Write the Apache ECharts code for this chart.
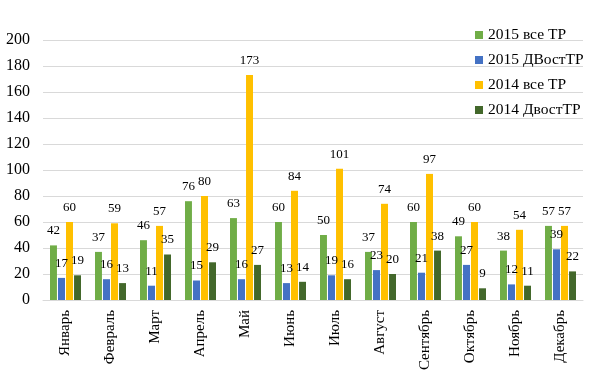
<!DOCTYPE html>
<html><head><meta charset="utf-8">
<script src="https://cdn.jsdelivr.net/npm/echarts@6/dist/echarts.min.js"></script>
<style>html,body{margin:0;padding:0;background:#fff}#c{width:609px;height:386px}</style>
</head><body><div id="c"></div>
<script>
const categories = ['Январь','Февраль','Март','Апрель','Май','Июнь','Июль','Август','Сентябрь','Октябрь','Ноябрь','Декабрь'];
const s2015all = [42,37,46,76,63,60,50,37,60,49,38,57];
const s2015dv = [17,16,11,15,16,13,19,23,21,27,12,39];
const s2014all = [60,59,57,80,173,84,101,74,97,60,54,57];
const s2014dv = [19,13,35,29,27,14,16,20,38,9,11,22];
const seriesNames = ['2015 все ТР','2015 ДВостТР','2014 все ТР','2014 ДвостТР'];
const colors = ['#70ad47','#4472c4','#ffc000','#43682b'];
const font = '"Liberation Serif","DejaVu Serif",serif';
const chart = echarts.init(document.getElementById('c'));
const data = [s2015all, s2015dv, s2014all, s2014dv];
chart.setOption({
  animation:false,
  color: colors,
  legend:{orient:'vertical', left:470, top:22, itemWidth:8, itemHeight:8, itemGap:9, icon:'rect',
    textStyle:{fontFamily:font, fontSize:15.5, color:'#000'}, data: seriesNames},
  grid:{left:43, right:26, top:40, bottom:86},
  xAxis:{type:'category', data:categories,
    axisLine:{lineStyle:{color:'#d9d9d9'}}, axisTick:{show:false},
    axisLabel:{rotate:90, interval:0, margin:10, fontFamily:font, fontSize:15, color:'#000'}},
  yAxis:{type:'value', min:0, max:200, interval:20,
    axisLine:{show:false}, axisTick:{show:false},
    splitLine:{lineStyle:{color:'#d9d9d9'}},
    axisLabel:{margin:13, fontFamily:font, fontSize:16, color:'#000'}},
  series: data.map((d,i)=>({
    name: seriesNames[i], type:'bar', data:d,
    barGap:'15%', barCategoryGap:'31%',
    label:{show:true, position:'top', distance:8, fontFamily:font, fontSize:13, color:'#000'}
  }))
});
</script></body></html>
